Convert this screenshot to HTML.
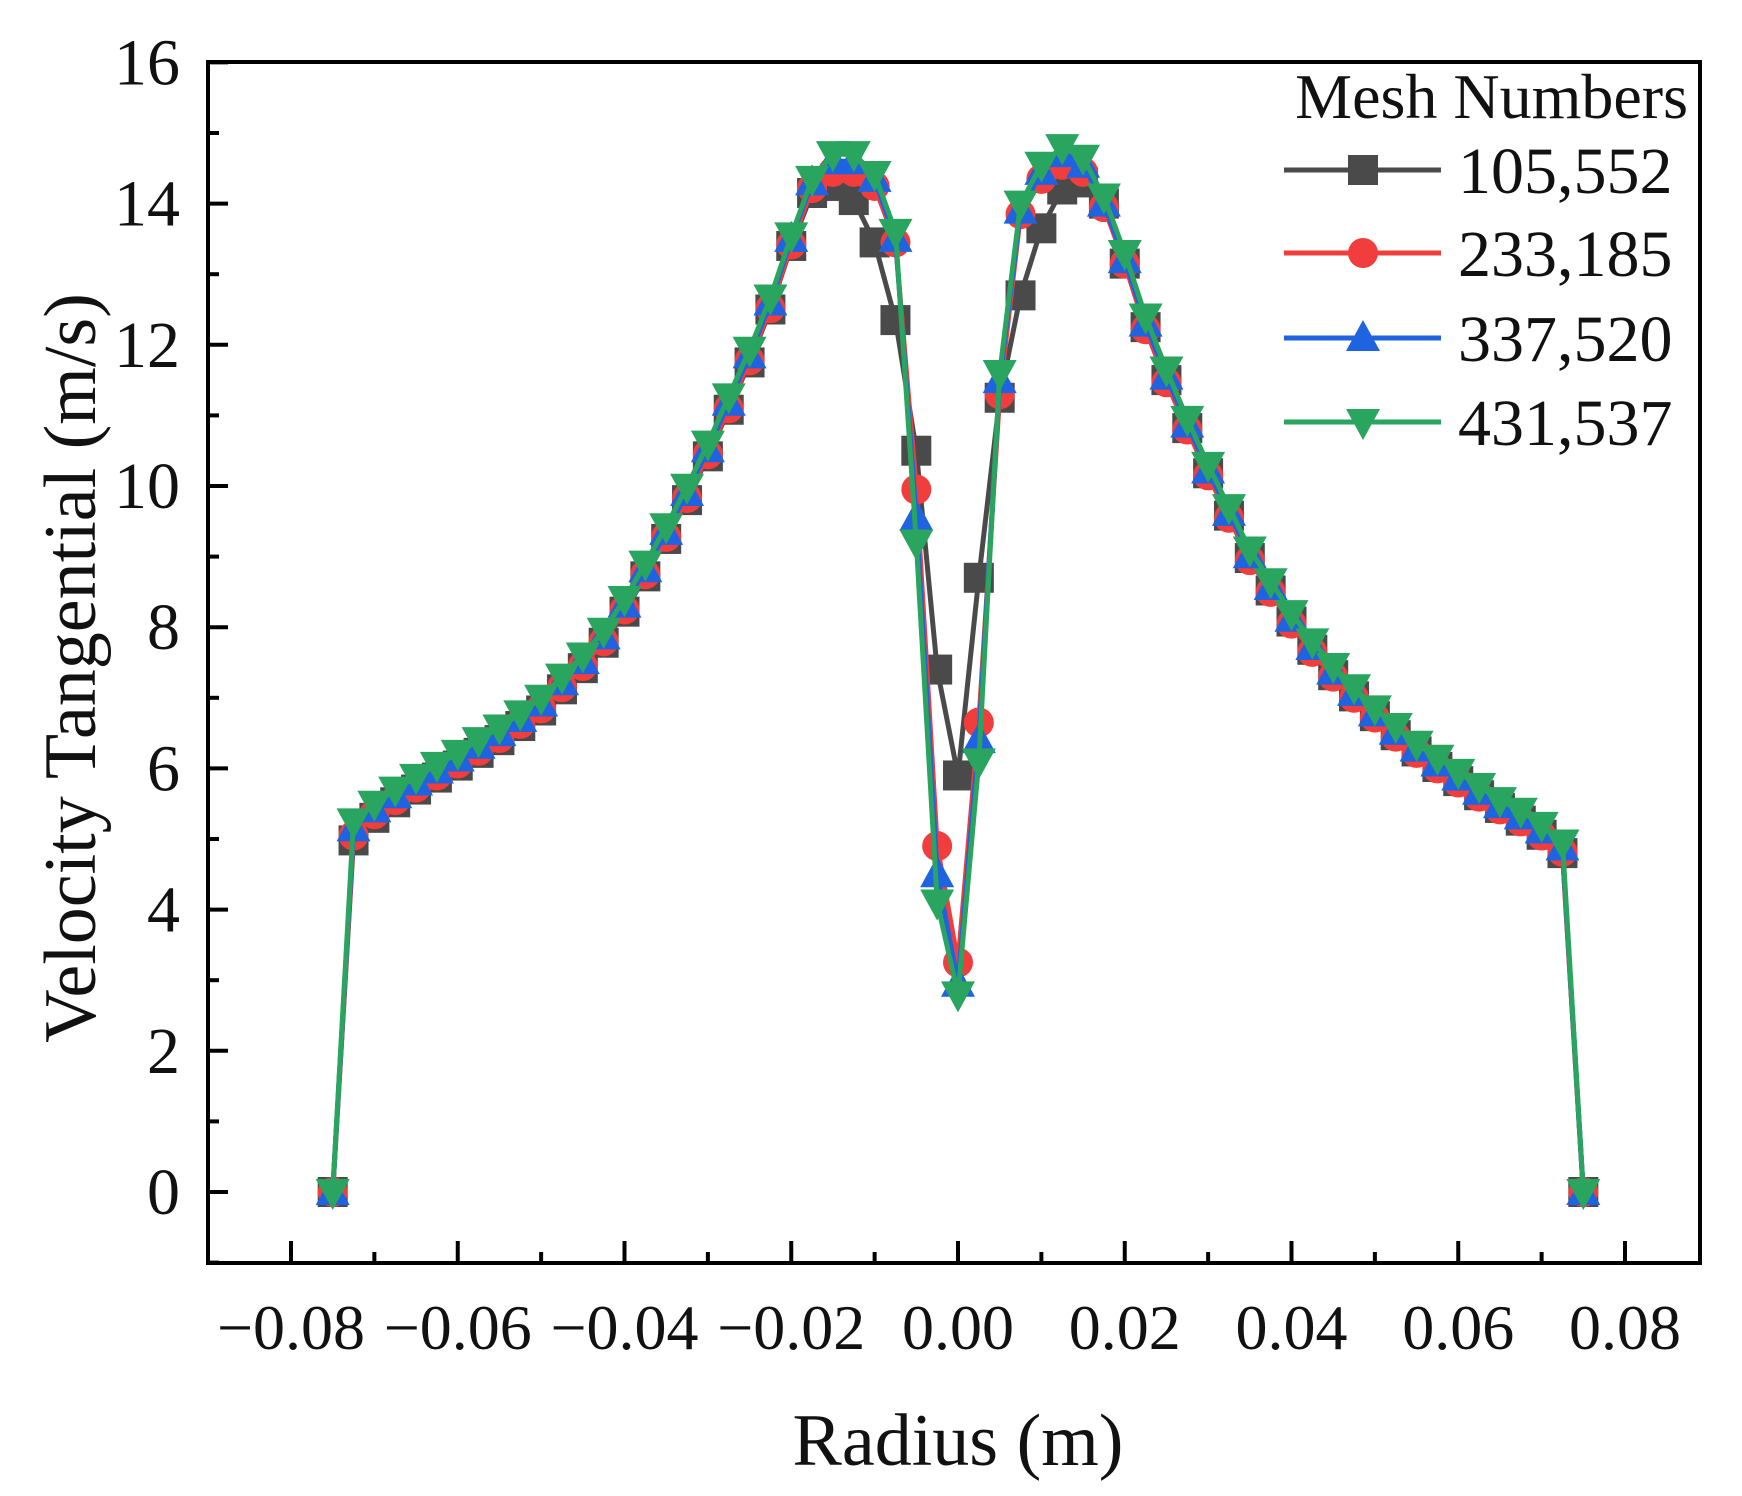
<!DOCTYPE html>
<html><head><meta charset="utf-8"><style>
html,body{margin:0;padding:0;background:#fff;}
svg text{font-family:"Liberation Serif",serif;fill:#111;}
</style></head><body>
<svg id="chart" width="1742" height="1491" viewBox="0 0 1742 1491" xmlns="http://www.w3.org/2000/svg">
<g id="grid"></g>
<g id="series"></g>
<g id="axes"></g>
<g id="legend"></g>
</svg>
<script>
const xIndex = [-30,-29,-28,-27,-26,-25,-24,-23,-22,-21,-20,-19,-18,-17,-16,-15,-14,-13,-12,-11,-10,-9,-8,-7,-6,-5,-4,-3,-2,-1,0,1,2,3,4,5,6,7,8,9,10,11,12,13,14,15,16,17,18,19,20,21,22,23,24,25,26,27,28,29,30];
const xStep = 0.0025;
const seriesNames = ["105,552","233,185","337,520","431,537"];
const green = [0,5.25,5.5,5.7,5.88,6.05,6.22,6.4,6.58,6.78,7.0,7.3,7.6,7.95,8.4,8.9,9.43,9.99,10.6,11.27,11.93,12.67,13.55,14.35,14.7,14.7,14.42,13.6,9.2,4.1,2.8,6.1,11.6,14.0,14.55,14.8,14.65,14.1,13.3,12.4,11.65,10.95,10.3,9.7,9.1,8.65,8.2,7.8,7.45,7.15,6.85,6.6,6.35,6.15,5.95,5.75,5.55,5.4,5.2,4.95,0];
const blue = [0,5.15,5.42,5.62,5.8,5.97,6.14,6.32,6.5,6.7,6.92,7.22,7.52,7.87,8.32,8.82,9.35,9.9,10.52,11.18,11.85,12.6,13.5,14.3,14.6,14.6,14.35,13.5,9.55,4.5,2.95,6.4,11.5,13.9,14.45,14.7,14.55,14.0,13.2,12.3,11.55,10.87,10.22,9.62,9.02,8.57,8.12,7.72,7.37,7.07,6.78,6.52,6.28,6.07,5.87,5.67,5.48,5.32,5.12,4.88,0];
const red = [0,5.05,5.35,5.55,5.73,5.9,6.07,6.25,6.43,6.63,6.85,7.15,7.45,7.8,8.25,8.75,9.28,9.83,10.45,11.1,11.78,12.52,13.42,14.22,14.45,14.45,14.25,13.45,9.95,4.9,3.25,6.65,11.3,13.85,14.35,14.55,14.45,13.95,13.15,12.22,11.47,10.8,10.15,9.55,8.95,8.5,8.05,7.65,7.3,7.0,6.72,6.45,6.22,6.0,5.8,5.6,5.42,5.25,5.05,4.82,0];
const black = [0,4.98,5.3,5.52,5.7,5.87,6.04,6.22,6.4,6.6,6.82,7.12,7.42,7.78,8.22,8.72,9.25,9.8,10.42,11.08,11.75,12.5,13.4,14.15,14.25,14.05,13.45,12.35,10.5,7.4,5.9,8.7,11.25,12.7,13.65,14.2,14.3,14.0,13.15,12.25,11.5,10.82,10.18,9.58,8.98,8.52,8.08,7.68,7.32,7.02,6.74,6.47,6.24,6.02,5.82,5.62,5.44,5.26,5.06,4.8,0];
const yTicks = [0,2,4,6,8,10,12,14,16];
const xTicks = [-0.08,-0.06,-0.04,-0.02,0,0.02,0.04,0.06,0.08];
const xTickLabels = ["\u22120.08","\u22120.06","\u22120.04","\u22120.02","0.00","0.02","0.04","0.06","0.08"];

const NS="http://www.w3.org/2000/svg";
const L=208,R=1700,T=62,B=1263;
const X=v=>958+v*8337.5;
const Y=v=>1192-v*70.6;
function mk(tag,attrs,parent){const e=document.createElementNS(NS,tag);for(const k in attrs)e.setAttribute(k,attrs[k]);parent.appendChild(e);return e;}
const axes=document.getElementById('axes'),ser=document.getElementById('series'),leg=document.getElementById('legend');

// frame
const fr=mk('rect',{x:L,y:T,width:R-L,height:B-T,fill:'none',stroke:'#000','stroke-width':4},axes);


// y ticks
for(let v=-1;v<=16;v++){
  const major=v%2===0;
  const t=mk('line',{x1:L,x2:L+(major?20:11),y1:Y(v),y2:Y(v),stroke:'#000','stroke-width':4},axes);
  
  
}
yTicks.forEach(v=>{
  const t=mk('text',{x:180,y:Y(v)+22,'text-anchor':'end','font-size':66},axes);
  t.textContent=String(v);
  
  
});
// x ticks
for(let k=-9;k<=8;k++){
  const v=k*0.01;const major=k%2===0;
  if(X(v)<L||X(v)>R)continue;
  const t=mk('line',{x1:X(v),x2:X(v),y1:B,y2:B-(major?22:11),stroke:'#000','stroke-width':4},axes);
  
  
}
xTicks.forEach((v,i)=>{
  const t=mk('text',{x:X(v),y:1349,'text-anchor':'middle','font-size':64},axes);
  t.textContent=xTickLabels[i];
  
  
});
const xt=mk('text',{x:958,y:1465,'text-anchor':'middle','font-size':74},axes);
xt.textContent='Radius (m)';


const yt=mk('text',{x:0,y:0,'text-anchor':'middle','font-size':74,transform:'translate(95,668) rotate(-90)'},axes);
yt.textContent='Velocity Tangential (m/s)';



const styles=[
 {data:black,color:'#4a4a4a',m:'square'},
 {data:red,color:'#f23d3d',m:'circle'},
 {data:blue,color:'#1f63e0',m:'up'},
 {data:green,color:'#2aa55f',m:'down'}];
function marker(type,cx,cy,color,parent){
  const s=15;let e;
  if(type==='square')e=mk('rect',{x:cx-s,y:cy-s,width:2*s,height:2*s,fill:color},parent);
  else if(type==='circle')e=mk('circle',{cx:cx,cy:cy,r:s,fill:color},parent);
  else if(type==='up')e=mk('polygon',{points:`${cx},${cy-s-3} ${cx+s+2},${cy+s-2} ${cx-s-2},${cy+s-2}`,fill:color},parent);
  else e=mk('polygon',{points:`${cx},${cy+s+3} ${cx+s+2},${cy-s+2} ${cx-s-2},${cy-s+2}`,fill:color},parent);
  return e;
}
styles.forEach((st,si)=>{
  const g=mk('g',{},ser);
  
  
  const pts=xIndex.map((k,i)=>X(k*xStep).toFixed(1)+','+Y(st.data[i]).toFixed(1)).join(' ');
  const pl=mk('polyline',{points:pts,fill:'none',stroke:st.color,'stroke-width':5,'stroke-linejoin':'round'},g);
  
  
  xIndex.forEach((k,i)=>{
    const m=marker(st.m,X(k*xStep),Y(st.data[i]),st.color,g);
    
    
  });
});
// legend
const lt=mk('text',{x:1688,y:118,'text-anchor':'end','font-size':64},leg);
lt.textContent='Mesh Numbers';


const rows=[170,253,338,422];
styles.forEach((st,si)=>{
  const g=mk('g',{},leg);
  
  
  mk('line',{x1:1284,x2:1441,y1:rows[si],y2:rows[si],stroke:st.color,'stroke-width':5},g);
  marker(st.m,1363,rows[si],st.color,g);
  const t=mk('text',{x:1458,y:rows[si]+23,'font-size':66},g);
  t.textContent=seriesNames[si];
});
</script>
</body></html>
